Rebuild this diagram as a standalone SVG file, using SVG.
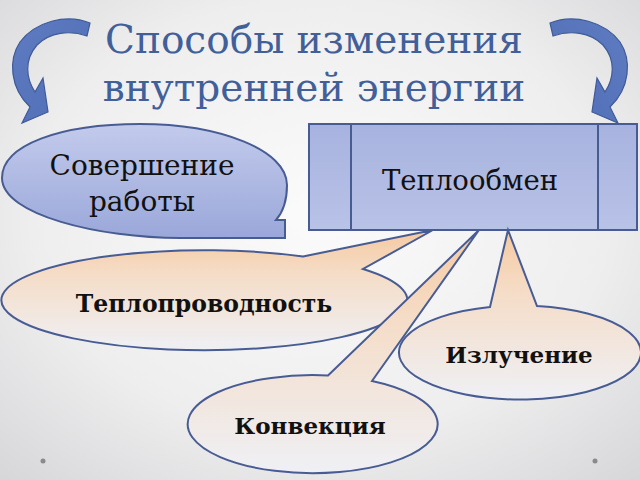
<svg xmlns="http://www.w3.org/2000/svg" width="640" height="480" viewBox="0 0 640 480">
<defs>
<radialGradient id="bg" cx="0.5" cy="0.45" r="0.75">
<stop offset="0" stop-color="#fbfbfc"/>
<stop offset="0.6" stop-color="#eeeeef"/>
<stop offset="1" stop-color="#d6d6d8"/>
</radialGradient>
<linearGradient id="blue" x1="0" y1="0" x2="0" y2="1">
<stop offset="0" stop-color="#c3cbec"/>
<stop offset="1" stop-color="#9aa7d9"/>
</linearGradient>
<linearGradient id="boxg" x1="0" y1="0" x2="0" y2="1">
<stop offset="0" stop-color="#a7b3df"/>
<stop offset="1" stop-color="#b9c2e7"/>
</linearGradient>
<linearGradient id="peach" x1="0" y1="0" x2="0" y2="1">
<stop offset="0" stop-color="#f5c9a0"/>
<stop offset="0.35" stop-color="#f5dcc6"/>
<stop offset="1" stop-color="#eff0f5"/>
</linearGradient>
<linearGradient id="arr" x1="0" y1="0" x2="1" y2="1">
<stop offset="0" stop-color="#5f7cc2"/>
<stop offset="1" stop-color="#4f6db5"/>
</linearGradient>
<style>
.sh{stroke:#485c94;stroke-width:2;stroke-linejoin:miter}
.bl{fill:url(#blue)}
.pc{fill:url(#peach)}
.ar{fill:url(#arr);stroke:#3f5a98;stroke-width:1.2}
</style>
</defs>
<rect width="640" height="480" fill="url(#bg)"/>
<g id="title" font-family="'DejaVu Serif', 'Liberation Serif', serif" font-size="39" fill="#41609a" text-anchor="middle">
<text x="314" y="53">Способы изменения</text>
<text x="314" y="101">внутренней энергии</text>
</g>
<g id="connectors">
<path id="arrow-left" class="ar" d="M 90,23 C 66,13 35,22 20,42 C 8,60 10,88 30,107 L 22,123 L 48,112 L 43,78 L 35,92 C 26,78 24,60 37,45 C 50,32 70,30 87,36 Z"/>
<path id="arrow-right" class="ar" transform="translate(640,0) scale(-1,1)" d="M 90,23 C 66,13 35,22 20,42 C 8,60 10,88 30,107 L 22,123 L 48,112 L 43,78 L 35,92 C 26,78 24,60 37,45 C 50,32 70,30 87,36 Z"/>
</g>
<g id="teploobmen">
<rect class="sh" x="309" y="124" width="328" height="106" fill="url(#boxg)"/>
<line class="sh" x1="351" y1="124" x2="351" y2="230"/>
<line class="sh" x1="598" y1="124" x2="598" y2="230"/>
<text x="470" y="190" font-family="'DejaVu Serif', 'Liberation Serif', serif" font-size="27.5" fill="#111" text-anchor="middle">Теплообмен</text>
</g>
<g id="sovershenie">
<path class="sh bl" d="M 285,238 L 180,238 C 100,238 2,215 2,178 C 2,145 60,124 140,124 C 220,124 287,150 287,185 C 287,200 283,212 276,220 L 285,220 Z"/>
<text x="142" y="175" font-family="'DejaVu Serif', 'Liberation Serif', serif" font-size="28" fill="#111" text-anchor="middle">Совершение</text>
<text x="142" y="211" font-family="'DejaVu Serif', 'Liberation Serif', serif" font-size="28" fill="#111" text-anchor="middle">работы</text>
</g>
<g id="teploprovodnost">
<path class="sh pc" d="M 303,256.5 L 433,230 L 363,269 A 203 50 0 1 1 303,256.5 Z"/>
<text x="204" y="312" font-family="'DejaVu Serif', 'Liberation Serif', serif" font-size="23.5" font-weight="bold" fill="#111" text-anchor="middle">Теплопроводность</text>
</g>
<g id="izluchenie">
<path class="sh pc" d="M 490,307 L 508,230 L 537,306 A 121 47 0 1 1 490,307 Z"/>
<text x="519" y="363" font-family="'DejaVu Serif', 'Liberation Serif', serif" font-size="23" font-weight="bold" fill="#111" text-anchor="middle">Излучение</text>
</g>
<g id="konvekciya">
<path class="sh pc" d="M 328,375.5 L 479,230 L 372,381 A 125 49 0 1 1 328,375.5 Z"/>
<text x="310" y="434" font-family="'DejaVu Serif', 'Liberation Serif', serif" font-size="23" font-weight="bold" fill="#111" text-anchor="middle">Конвекция</text>
</g>
<g id="dots" fill="#8a8a8c">
<circle cx="43" cy="461" r="2.5"/>
<circle cx="595" cy="461" r="2.5"/>
</g>
</svg>
